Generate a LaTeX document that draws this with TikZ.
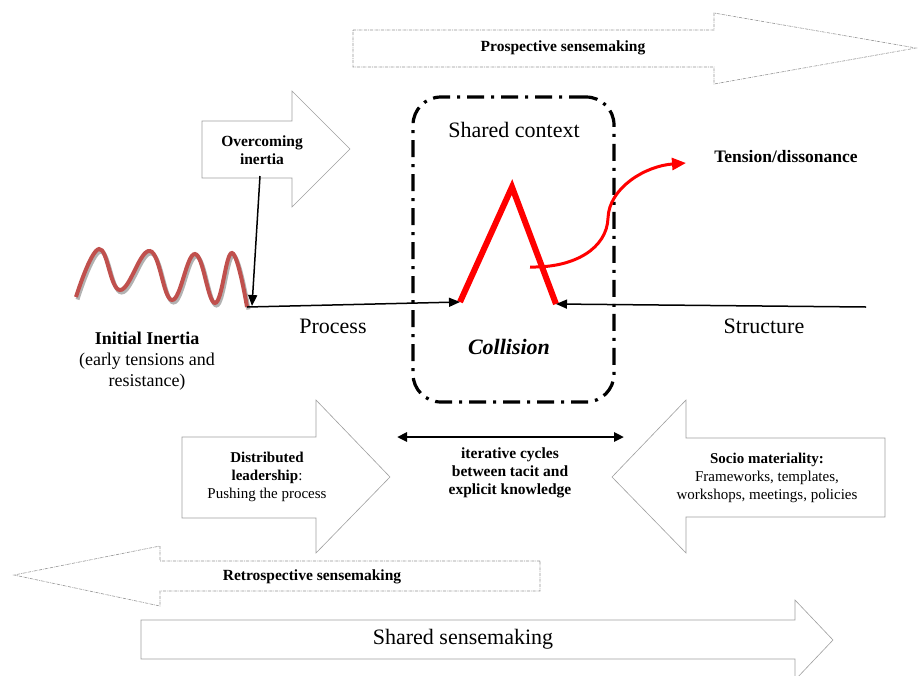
\documentclass[tikz,border=0pt]{standalone}
\usepackage{fontspec}
\setmainfont{Liberation Serif}
\usetikzlibrary{arrows.meta,positioning}
\definecolor{wavered}{RGB}{192,80,77}

\begin{document}
\begin{tikzpicture}[x=1pt,y=-1pt,>=Latex,
 blk/.style={draw=gray!75,line width=.6pt,fill=white},
 dblk/.style={draw=gray!85,line width=.6pt,dash pattern=on 3pt off 1pt on .6pt off 1pt},
 big/.style={font=\fontsize{22}{24}\selectfont},
 lbl/.style={font=\bfseries\fontsize{15.5}{18}\selectfont,align=center},
 note/.style={font=\fontsize{15}{18}\selectfont,align=center},
 ctxbox/.style={draw,line width=3.2pt,rounded corners=28pt,dash pattern=on 17pt off 7pt on 3pt off 7pt,
   minimum width=201pt,minimum height=305pt},
 tip/.style={-{Triangle[length=11pt,width=9pt]},line width=1.5pt}]
 \useasboundingbox (0,0) rectangle (918,675);
 % block arrows
 \draw[dblk] (353,30)--(714,30)--(714,13)--(916,48)--(714,84)--(714,67)--(353,67)--cycle;
 \node[lbl] (pros) at (563,48) {Prospective sensemaking};
 \draw[blk] (202,121)--(292,121)--(292,91)--(350,149)--(292,207)--(292,178)--(202,178)--cycle;
 \node[lbl] (over) at (262,150) {Overcoming\\inertia};
 \draw[blk] (182,437)--(316,437)--(316,400)--(390,477)--(316,553)--(316,518)--(182,518)--cycle;
 \node[note] (lead) at (267,477) {\textbf{Distributed}\\\textbf{leadership}:\\Pushing the process};
 \draw[blk] (885,438)--(686,438)--(686,400)--(612,477)--(686,553)--(686,517)--(885,517)--cycle;
 \node[note] (socio) at (767,478) {\textbf{Socio materiality:}\\Frameworks, templates,\\workshops, meetings, policies};
 \draw[dblk] (540,561)--(160,561)--(160,546)--(14,575)--(160,606)--(160,591)--(540,591)--cycle;
 \node[lbl] (retro) at (312,577) {Retrospective sensemaking};
 \draw[blk] (141,620)--(795,620)--(795,600)--(833,640)--(795,680)--(795,659)--(141,659)--cycle;
 \node[big] (shared) at (463,639) {Shared sensemaking};
 % shared context
 \node[ctxbox] (ctx) at (513.5,249.5) {};
 \node[big] (ctxlbl) at (514,130) {Shared context};
 \node[big] (coll) at (509,347) {\textbf{\textit{Collision}}};
 % initial inertia wave
 \coordinate (wend) at (247,307);
 \draw[gray!60,line width=4pt,shift={(1.5,2.5)}] plot[smooth,tension=.7] coordinates
  {(76,297) (99,249) (120,290) (150,251) (172,300) (195,254) (215,303) (232,253) (247,307)};
 \draw[wavered,line width=4pt] plot[smooth,tension=.7] coordinates
  {(76,297) (99,249) (120,290) (150,251) (172,300) (195,254) (215,303) (232,253) (wend)};
 \node[font=\fontsize{18}{21}\selectfont,align=center] (init) at (147,361)
  {\textbf{Initial Inertia}\\(early tensions and\\resistance)};
 % collision
 \coordinate (lamL) at (460,302);\coordinate (lamT) at (512,187);\coordinate (lamR) at (556,304);
 \coordinate (send) at (866,307);\coordinate (o1) at (260,176);\coordinate (wtip) at (252,306);
 \draw[red,line width=6pt] (lamL)--(lamT)--(lamR);
 \draw[tip] (wend)--(lamL);
 \draw[tip] (send)--(lamR);
 \draw[tip] (o1)--(wtip);
 \node[big] (proc) at (333,326) {Process};
 \node[big] (struc) at (764,326) {Structure};
 % tension
 \coordinate (t0) at (530,267);\coordinate (t1) at (686,163);
 \draw[red,line width=3pt,-{Triangle[length=14pt,width=12pt]}] (t0) .. controls (575,268) and (607,248) .. (608,218)
  .. controls (609,188) and (645,166) .. (t1);
 \node[lbl,font=\bfseries\fontsize{17.5}{20}\selectfont] (tens) at (786,157) {Tension/dissonance};
 % iterative cycles
 \coordinate (itL) at (397,437);\coordinate (itR) at (624,437);
 \draw[{Triangle[length=10pt,width=9pt]}-{Triangle[length=10pt,width=9pt]},line width=2.5pt] (itL)--(itR);
 \node[lbl] (iter) at (510,473) {iterative cycles\\between tacit and\\explicit knowledge};
\end{tikzpicture}
\end{document}
